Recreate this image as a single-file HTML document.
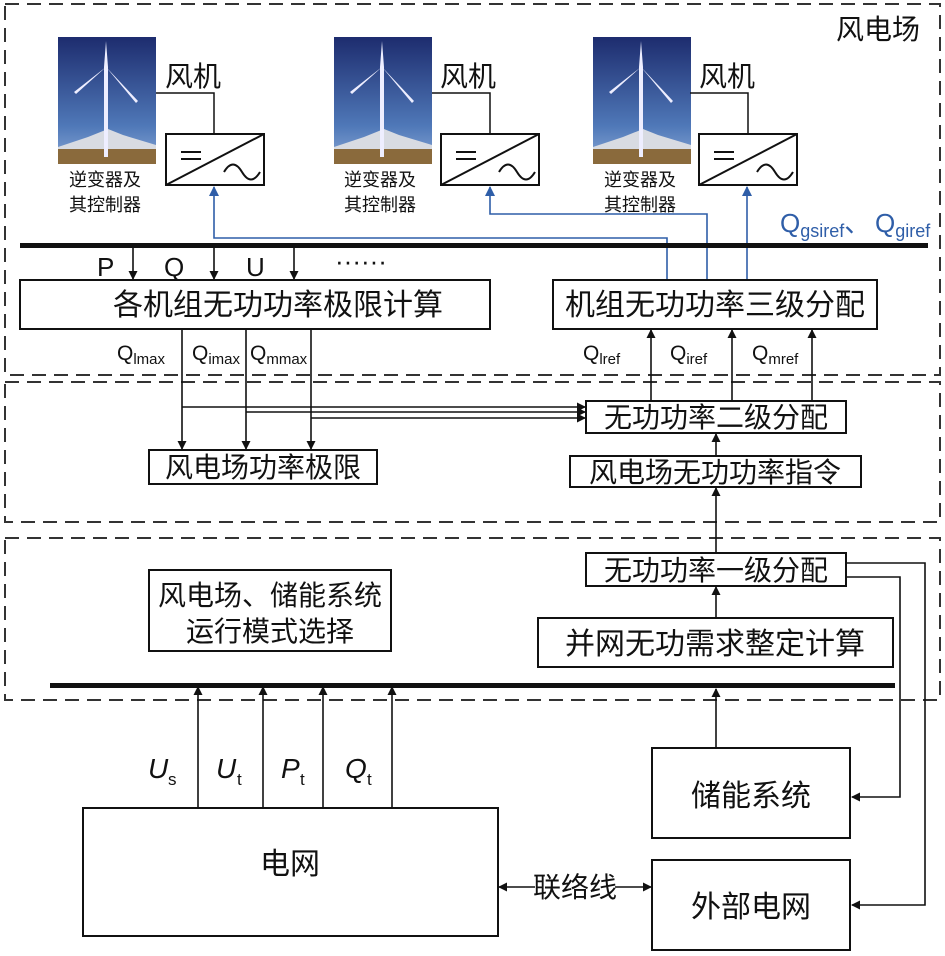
<!DOCTYPE html>
<html><head><meta charset="utf-8"><style>
body{margin:0;background:#fff}
svg{display:block}
text{font-family:"Liberation Sans","Noto Sans CJK SC",sans-serif;fill:#111}
.c{font-family:"Noto Sans CJK SC","WenQuanYi Zen Hei",sans-serif}
</style></head><body>
<svg width="945" height="956" viewBox="0 0 945 956" xmlns="http://www.w3.org/2000/svg">
<defs>
<linearGradient id="sky" x1="0" y1="0" x2="0" y2="1"><stop offset="0" stop-color="#1d2c6e"/><stop offset="0.7" stop-color="#4f78b8"/><stop offset="1" stop-color="#8aa8d6"/></linearGradient>
<marker id="a" markerWidth="9" markerHeight="9" refX="8" refY="4.5" orient="auto" markerUnits="userSpaceOnUse"><path d="M0,0 L9,4.5 L0,9 z" fill="#111"/></marker>
<marker id="b" markerWidth="10" markerHeight="10" refX="9" refY="5" orient="auto" markerUnits="userSpaceOnUse"><path d="M0,0 L10,5 L0,10 z" fill="#2f5ea8"/></marker>
<g id="tb">
<rect x="0" y="0" width="98" height="127" fill="url(#sky)"/>
<path d="M0,110 L30,100 L50,92 L65,98 L98,108 L98,127 L0,127z" fill="#d8dbe2"/>
<rect x="0" y="112" width="98" height="15" fill="#8a6a3c"/>
<rect x="46" y="30" width="4" height="90" fill="#eef"/>
<path d="M48,4 L50,30 L46,30z M48,30 L16,55 L18,57z M48,30 L80,64 L78,66z" fill="#eef"/>
</g>
<g id="cv" fill="none" stroke="#111" stroke-width="2">
<rect x="0" y="0" width="98" height="51" fill="#fff"/>
<path d="M0,51 L98,0"/>
<path d="M15,18 h20 M15,25 h20"/>
<path d="M58,38 c6,-10 12,-10 18,0 s12,10 18,0"/>
</g>
</defs>
<g fill="none" stroke="#333" stroke-width="2" stroke-dasharray="14,8">
<rect x="5" y="4" width="935" height="371"/>
<rect x="5" y="382" width="935" height="140"/>
<rect x="5" y="538" width="935" height="162"/>
</g>
<text x="836" y="39" class="c" font-size="28">风电场</text>
<use href="#tb" x="58" y="37"/><use href="#tb" x="334" y="37"/><use href="#tb" x="593" y="37"/>
<use href="#cv" x="166" y="134"/><use href="#cv" x="441" y="134"/><use href="#cv" x="699" y="134"/>
<g stroke="#111" stroke-width="1.5" fill="none">
<path d="M156,93 H214 V134 M432,93 H490 V134 M690,93 H748 V134"/>
</g>
<g class="c" font-size="28"><text x="165" y="86">风机</text><text x="440" y="86">风机</text><text x="699" y="86">风机</text></g>
<g class="c" font-size="18" text-anchor="middle">
<text x="105" y="186">逆变器及</text><text x="105" y="211">其控制器</text>
<text x="380" y="186">逆变器及</text><text x="380" y="211">其控制器</text>
<text x="640" y="186">逆变器及</text><text x="640" y="211">其控制器</text>
</g>
<g stroke="#2f5ea8" stroke-width="1.6" fill="none" marker-end="url(#b)">
<path d="M667,280 V238 H214 V187"/>
<path d="M707,280 V214 H490 V187"/>
<path d="M747,280 V187"/>
</g>
<text x="780" y="232" font-size="26" style="fill:#2f5ea8">Q<tspan font-size="18" dy="5" style="fill:#2f5ea8">gsiref</tspan><tspan dy="-5" style="fill:#2f5ea8">、</tspan></text>
<text x="875" y="232" font-size="26" style="fill:#2f5ea8">Q<tspan font-size="18" dy="5" style="fill:#2f5ea8">giref</tspan></text>
<rect x="20" y="243" width="908" height="5" fill="#111"/>
<g stroke="#111" stroke-width="1.6" marker-end="url(#a)"><path d="M133,248 V279"/><path d="M214,248 V279"/><path d="M294,248 V279"/></g>
<g font-size="26"><text x="97" y="276">P</text><text x="164" y="276">Q</text><text x="246" y="276">U</text><text x="335" y="270">······</text></g>
<g fill="#fff" stroke="#111" stroke-width="2">
<rect x="20" y="280" width="470" height="49"/><rect x="553" y="280" width="324" height="49"/>
<rect x="586" y="401" width="260" height="32"/><rect x="149" y="450" width="228" height="34"/>
<rect x="570" y="456" width="291" height="31"/>
<rect x="586" y="553" width="260" height="33"/><rect x="149" y="570" width="242" height="81"/>
<rect x="538" y="618" width="355" height="49"/>
<rect x="83" y="808" width="415" height="128"/>
<rect x="652" y="748" width="198" height="90"/><rect x="652" y="860" width="198" height="90"/>
</g>
<g class="c" font-size="30" text-anchor="middle">
<text x="278" y="315">各机组无功功率极限计算</text>
<text x="715" y="315">机组无功功率三级分配</text>
<text x="716" y="427" font-size="28">无功功率二级分配</text>
<text x="263" y="477" font-size="28">风电场功率极限</text>
<text x="715" y="482" font-size="28">风电场无功功率指令</text>
<text x="716" y="580" font-size="28">无功功率一级分配</text>
<text x="270" y="605" font-size="28">风电场、储能系统</text>
<text x="270" y="641" font-size="28">运行模式选择</text>
<text x="715" y="654">并网无功需求整定计算</text>
<text x="290" y="874">电网</text>
<text x="751" y="806">储能系统</text>
<text x="751" y="917">外部电网</text>
<text x="575" y="897" font-size="28">联络线</text>
</g>
<g font-size="21"><text x="117" y="360">Q<tspan font-size="15" dy="4">lmax</tspan></text>
<text x="192" y="360">Q<tspan font-size="15" dy="4">imax</tspan></text>
<text x="250" y="360">Q<tspan font-size="15" dy="4">mmax</tspan></text>
<text x="583" y="360">Q<tspan font-size="15" dy="4">lref</tspan></text>
<text x="670" y="360">Q<tspan font-size="15" dy="4">iref</tspan></text>
<text x="752" y="360">Q<tspan font-size="15" dy="4">mref</tspan></text></g>
<g stroke="#111" stroke-width="1.6" fill="none" marker-end="url(#a)">
<path d="M182,329 V449"/><path d="M246,329 V449"/><path d="M311,329 V449"/>
<path d="M182,407 H585"/><path d="M246,412 H585"/><path d="M311,418 H585"/>
<path d="M651,401 V330"/><path d="M732,401 V330"/><path d="M812,401 V330"/>
<path d="M716,456 V434"/><path d="M716,553 V488"/><path d="M716,618 V587"/>
<path d="M846,563 H925 V905 H852"/><path d="M846,577 H900 V797 H852"/>
<path d="M198,808 V687"/><path d="M263,808 V687"/><path d="M323,808 V687"/><path d="M392,808 V687"/><path d="M716,748 V689"/>
<path d="M535,887 H499"/><path d="M615,887 H651"/>
</g>
<rect x="50" y="683" width="845" height="5" fill="#111"/>
<g font-size="28" font-style="italic"><text x="148" y="778">U</text><text x="216" y="778">U</text><text x="281" y="778">P</text><text x="345" y="778">Q</text></g>
<g font-size="17"><text x="168" y="785">s</text><text x="237" y="785">t</text><text x="300" y="785">t</text><text x="367" y="785">t</text></g>
</svg>
</body></html>
